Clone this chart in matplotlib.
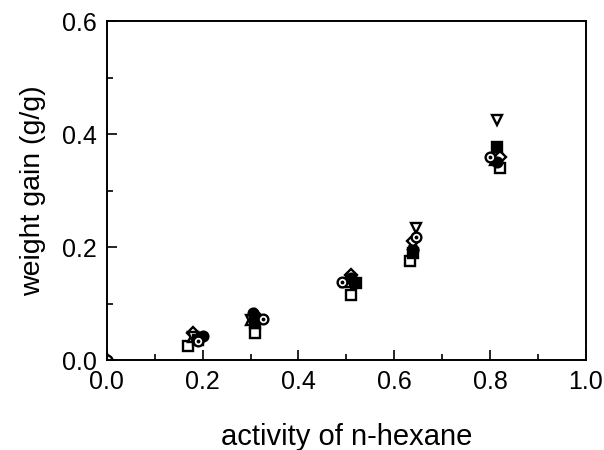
import numpy as np
import matplotlib
matplotlib.use('Agg')
from matplotlib import pyplot as plt

plt.rcParams['font.family'] = ['Liberation Sans', 'DejaVu Sans']

# activity of n-hexane vs weight gain
a_cdot = [0.0, 0.19, 0.325, 0.49, 0.645, 0.80]
w_cdot = [0.0, 0.034, 0.073, 0.138, 0.218, 0.360]

a_fcirc = [0.20, 0.305, 0.51, 0.64, 0.815]
w_fcirc = [0.042, 0.083, 0.145, 0.195, 0.350]

a_tri = [0.18, 0.30, 0.50, 0.64, 0.81]
w_tri = [0.040, 0.070, 0.138, 0.205, 0.355]

a_osq = [0.17, 0.31, 0.51, 0.632, 0.82]
w_osq = [0.025, 0.047, 0.115, 0.175, 0.340]

a_fsq = [0.19, 0.31, 0.52, 0.64, 0.815]
w_fsq = [0.035, 0.065, 0.136, 0.190, 0.377]

a_trd = [0.18, 0.30, 0.51, 0.645, 0.815]
w_trd = [0.040, 0.070, 0.140, 0.234, 0.425]

a_dia = [0.0, 0.18, 0.31, 0.51, 0.64, 0.82]
w_dia = [0.0, 0.048, 0.080, 0.150, 0.210, 0.360]

fig = plt.figure(figsize=(6.04, 4.5), dpi=100)
ax = fig.add_axes([0.177, 0.2, 0.793, 0.753])

ms = 7
kw = dict(linestyle='none', markersize=ms, markeredgewidth=1.7, color='k')
ax.plot(a_osq, w_osq, marker='s', markerfacecolor='white', **kw)
ax.plot(a_tri, w_tri, marker='^', markerfacecolor='white', **kw)
ax.plot(a_dia, w_dia, marker='D', markerfacecolor='white', markersize=6,
        linestyle='none', markeredgewidth=1.7, color='k')
ax.plot(a_trd, w_trd, marker='v', markerfacecolor='white', **kw)
ax.plot(a_fsq, w_fsq, marker='s', markerfacecolor='k', **kw)
ax.plot(a_fcirc, w_fcirc, marker='o', markerfacecolor='k', **kw)
ax.plot(a_cdot, w_cdot, marker='o', markerfacecolor='white', **kw)
ax.plot(a_cdot, w_cdot, marker='.', markersize=3.5, linestyle='none', color='k')

ax.set_xlim(0, 1.0)
ax.set_ylim(0, 0.6)
ax.set_xticks(np.arange(0, 1.01, 0.2))
ax.set_yticks(np.arange(0, 0.61, 0.2))
ax.set_xticks(np.arange(0.1, 1.0, 0.2), minor=True)
ax.set_yticks(np.arange(0.1, 0.6, 0.2), minor=True)
ax.xaxis.set_major_formatter(matplotlib.ticker.FormatStrFormatter('%.1f'))
ax.yaxis.set_major_formatter(matplotlib.ticker.FormatStrFormatter('%.1f'))
ax.tick_params(which='both', direction='in', labelsize=18, width=1.2)
ax.tick_params(which='major', length=7, pad=7)
ax.tick_params(which='minor', length=4)
for s in ax.spines.values():
    s.set_linewidth(1.4)

ax.set_xlabel('activity of n-hexane', fontsize=21, labelpad=21)
ax.set_ylabel('weight gain (g/g)', fontsize=20.5, labelpad=12)

fig.savefig('out.png', dpi=100)
